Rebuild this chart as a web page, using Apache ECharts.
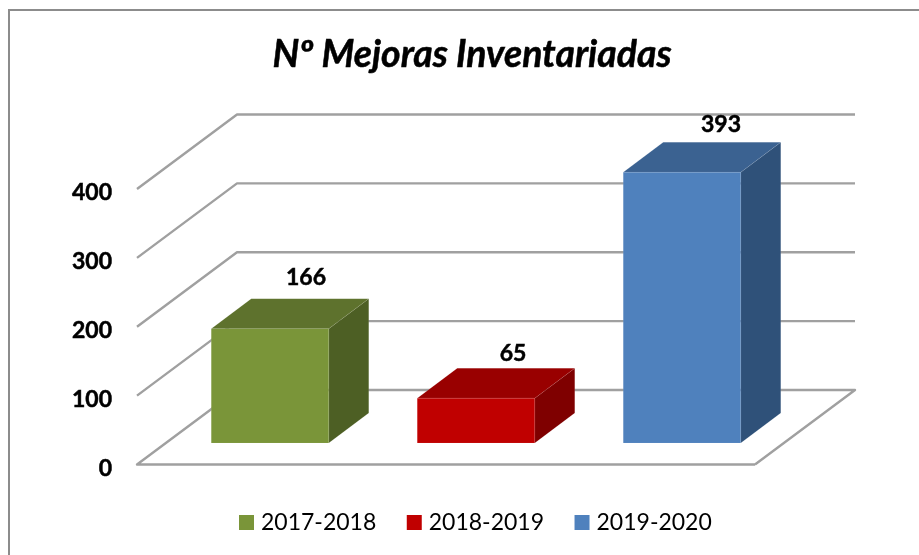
<!DOCTYPE html>
<html>
<head>
<meta charset="utf-8">
<style>html,body{margin:0;padding:0;background:#fff}#c{width:919px;height:555px}</style>
<script src="https://cdn.jsdelivr.net/npm/echarts@6/dist/echarts.min.js"></script>
</head>
<body>
<div id="c"></div>
<script>
const chartTitle = 'Nº Mejoras Inventariadas';
const periods = ['2017-2018', '2018-2019', '2019-2020'];
const mejoras = [166, 65, 393];
const tickValues = [0, 100, 200, 300, 400];
const frontColors = ['#7A9539', '#C00000', '#4F81BD'];
const topColors = ['#5E722D', '#990000', '#3B6291'];
const sideColors = ['#4D5F24', '#7F0000', '#2F5179'];

const FONT = 'Lato, "Noto Sans", sans-serif';
const WALL = { dx: 100, dy: -74.5 };
const BAR = { dx: 30, dy: -21.5, depthX: 40, depthY: -30, width: 117.5 };
const LABEL_SHIFT_X = [36, 37, 39];
const LABEL_LIFT = [21, 15, 18];
const GRID_COLOR = '#A0A0A0';

function renderWall(params, api) {
  const cs = params.coordSys;
  const v = api.value(1);
  const y = api.coord([0, v])[1];
  const x0 = cs.x, x1 = cs.x + cs.width;
  const pts = v === 0
    ? [[x1, y], [x0, y], [x0 + WALL.dx, y + WALL.dy], [x1 + WALL.dx, y + WALL.dy], [x1, y]]
    : [[x0, y], [x0 + WALL.dx, y + WALL.dy], [x1 + WALL.dx, y + WALL.dy]];
  return {
    type: 'polyline',
    shape: { points: pts },
    style: { fill: 'none', stroke: GRID_COLOR, lineWidth: 2.4, lineJoin: 'round' }
  };
}

function barRenderer(i) {
  return function (params, api) {
    const base = api.coord([i, 0]);
    const top = api.coord([i, api.value(1)]);
    const l = base[0] + BAR.dx - BAR.width / 2;
    const r = l + BAR.width;
    const b = base[1] + BAR.dy;
    const t = top[1] + BAR.dy;
    const dx = BAR.depthX, dy = BAR.depthY;
    const edge = 'rgba(255,255,255,0.07)';
    return {
      type: 'group',
      children: [
        { type: 'polygon', shape: { points: [[r, t], [r + dx, t + dy], [r + dx, b + dy], [r, b]] },
          style: { fill: sideColors[i], stroke: edge, lineWidth: 1 } },
        { type: 'polygon', shape: { points: [[l, t], [l + dx, t + dy], [r + dx, t + dy], [r, t]] },
          style: { fill: topColors[i], stroke: edge, lineWidth: 1 } },
        { type: 'rect', shape: { x: l, y: t, width: BAR.width, height: b - t },
          style: { fill: frontColors[i], stroke: edge, lineWidth: 1 } },
        { type: 'text', x: (l + r) / 2 + LABEL_SHIFT_X[i], y: t + dy - LABEL_LIFT[i],
          style: { text: String(api.value(1)), fill: '#000', stroke: '#000', lineWidth: 0.5, font: 'bold 23px ' + FONT, align: 'center', verticalAlign: 'middle' } }
      ]
    };
  };
}

const chart = echarts.init(document.getElementById('c'), null, { renderer: 'canvas' });
chart.setOption({
  animation: false,
  backgroundColor: '#fff',
  color: frontColors,
  title: {
    text: chartTitle, left: 467, top: 31, textAlign: 'center',
    textStyle: { fontFamily: FONT, fontSize: 37.4, fontWeight: 'bold', fontStyle: 'italic', color: '#000', textBorderColor: '#000', textBorderWidth: 0.5 }
  },
  legend: {
    data: periods, left: 234, top: 506, itemWidth: 15, itemHeight: 15, itemGap: 30.5, icon: 'rect',
    textStyle: { fontFamily: FONT, fontSize: 23, color: '#000', padding: [0, 0, 0, 2] }
  },
  grid: { left: 137, right: 164, top: 189, bottom: 90.5 },
  xAxis: { type: 'category', data: periods, show: false },
  yAxis: {
    type: 'value', min: 0, max: 400, interval: 100,
    axisLine: { show: false }, axisTick: { show: false }, splitLine: { show: false },
    axisLabel: { margin: 25, color: '#000', fontFamily: FONT, fontSize: 23, fontWeight: 'bold', verticalAlign: 'top', lineHeight: 8, textBorderColor: '#000', textBorderWidth: 0.5 }
  },
  graphic: [{
    type: 'polyline', silent: true, z: -1,
    shape: { points: [[9, 555], [9, 10], [919, 10]] },
    style: { fill: 'none', stroke: '#8C8C8C', lineWidth: 2 }
  }],
  series: [
    { type: 'custom', name: 'wall', z: 1, silent: true, renderItem: renderWall,
      encode: { x: 0, y: 1 }, data: tickValues.map(v => [periods[0], v]) }
  ].concat(periods.map((p, i) => ({
    type: 'custom', name: p, z: 2, renderItem: barRenderer(i),
    encode: { x: 0, y: 1 }, data: [[p, mejoras[i]]],
    itemStyle: { color: frontColors[i] }
  })))
});
</script>
</body>
</html>
